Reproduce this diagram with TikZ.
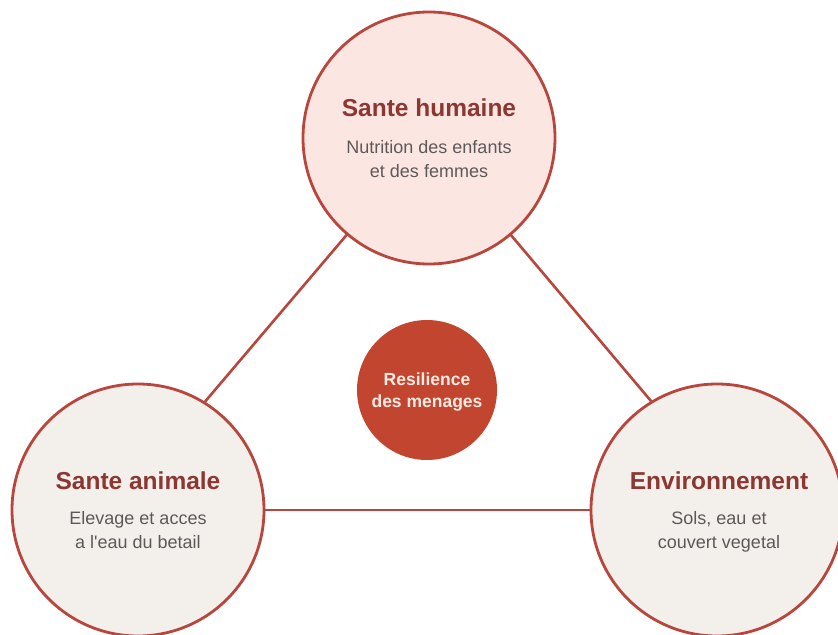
\documentclass[tikz,border=0pt]{standalone}
\usepackage{fontspec}
\setmainfont{Liberation Sans}
\definecolor{ringred}{HTML}{B8463C}
\definecolor{pinkfill}{HTML}{FBE6E2}
\definecolor{greyfill}{HTML}{F3EFEB}
\definecolor{corefill}{HTML}{C24530}
\definecolor{titlered}{HTML}{8C3732}
\definecolor{subgrey}{HTML}{5E5959}
\definecolor{coretext}{HTML}{FCEBE2}
\tikzset{
  bigcircle/.style={circle, draw=ringred, line width=2.8bp, minimum size=252bp, inner sep=0pt},
  corecircle/.style={circle, fill=corefill, minimum size=140bp, inner sep=0pt},
  link/.style={draw=ringred, line width=2.6bp},
  ttl/.style={anchor=base, inner sep=0pt, text=titlered, font=\fontsize{24.5bp}{29bp}\selectfont\bfseries},
  sub/.style={anchor=base, inner sep=0pt, text=subgrey, font=\fontsize{18bp}{22bp}\selectfont},
  coretxt/.style={anchor=base, inner sep=0pt, text=coretext, font=\fontsize{17.5bp}{21bp}\selectfont\bfseries}
}
\begin{document}
\begin{tikzpicture}[x=1bp,y=-1bp]
\useasboundingbox[fill=white] (0,0) rectangle (838,635);
% line anchors (lines are hidden under the circles)
\coordinate (topc) at (429,138);
\coordinate (leftc) at (113,510);
\coordinate (rightc) at (743,510);
\draw[link] (topc) -- (leftc);
\draw[link] (topc) -- (rightc);
\draw[link] (leftc) -- (rightc);
% circles
\node[bigcircle, fill=pinkfill] (top) at (429,138) {};
\node[bigcircle, fill=greyfill] (left) at (138,510) {};
\node[bigcircle, fill=greyfill] (right) at (717,510) {};
\node[corecircle] (core) at (427,390) {};
% top texts
\node[ttl] (toptitle) at (429,117) {Sante humaine};
\node[sub] (topsubA) at (429,154) {Nutrition des enfants};
\node[sub] (topsubB) at (429,178) {et des femmes};
% left texts
\node[ttl] (lefttitle) at (138,489) {Sante animale};
\node[sub] (leftsubA) at (138,524) {Elevage et acces};
\node[sub] (leftsubB) at (138,548) {a l\textquotesingle eau du betail};
% right texts
\node[ttl] (righttitle) at (719,489) {Environnement};
\node[sub] (rightsubA) at (719,524) {Sols, eau et};
\node[sub] (rightsubB) at (719,548) {couvert vegetal};
% core texts
\node[coretxt] (coreA) at (427,385) {Resilience};
\node[coretxt] (coreB) at (427,407) {des menages};
\end{tikzpicture}
\end{document}
